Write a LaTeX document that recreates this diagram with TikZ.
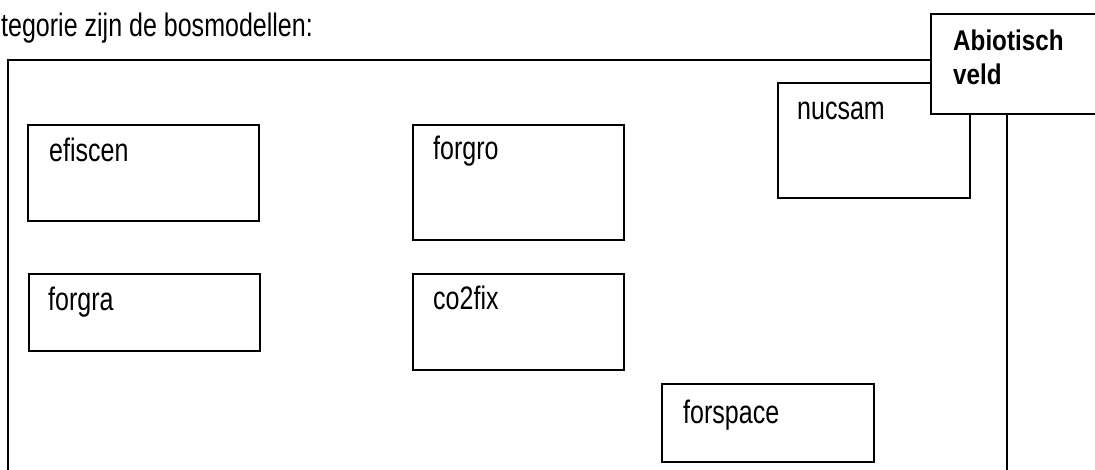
\documentclass[tikz,border=0pt]{standalone}
\usepackage{fontspec}
\newfontfamily\regf[FakeStretch=0.77]{Liberation Sans}
\newfontfamily\boldf[FakeStretch=0.85]{Liberation Sans}
\begin{document}
\begin{tikzpicture}[x=1pt,y=-1pt,
  box/.style={draw=black,line width=2.2pt,fill=white,inner sep=0pt,anchor=north west},
  lbl/.style={inner sep=0pt,anchor=base west,font=\regf\fontsize{32.5}{36}\selectfont},
  blbl/.style={inner sep=0pt,anchor=base west,font=\boldf\bfseries\fontsize{28.5}{34}\selectfont}]
\useasboundingbox (0,0) rectangle (1095,470);
\clip (0,0) rectangle (1095,470);
% title text
\node[lbl] (title) at (1,37) {tegorie zijn de bosmodellen:};
% outer frame
\coordinate (fbl) at (8,490);
\coordinate (ftl) at (8,60);
\coordinate (ftr) at (1007,60);
\coordinate (fbr) at (1007,490);
\draw[line width=2.2pt] (fbl) -- (ftl) -- (ftr) -- (fbr);
% model boxes
\node[box,minimum width=231,minimum height=96] (efiscen) at (27,124) {};
\node[lbl] (efiscenT) at (49,162) {efiscen};
\node[box,minimum width=211,minimum height=115] (forgro) at (412,124) {};
\node[lbl] (forgroT) at (433,160) {forgro};
\node[box,minimum width=231,minimum height=77] (forgra) at (28,273) {};
\node[lbl] (forgraT) at (48,311) {forgra};
\node[box,minimum width=211,minimum height=96] (co2fix) at (412,273) {};
\node[lbl] (co2fixT) at (433,310) {co2fix};
\node[box,minimum width=212,minimum height=78] (forspace) at (661,383) {};
\node[lbl] (forspaceT) at (683,423) {forspace};
\node[box,minimum width=192,minimum height=115] (nucsam) at (777,82) {};
\node[lbl] (nucsamT) at (797,120) {nucsam};
% abiotisch veld box
\node[box,minimum width=175,minimum height=100] (abio) at (930,13) {};
\node[blbl] (abioT1) at (953,51) {Abiotisch};
\node[blbl] (abioT2) at (953,85) {veld};
\end{tikzpicture}
\end{document}
